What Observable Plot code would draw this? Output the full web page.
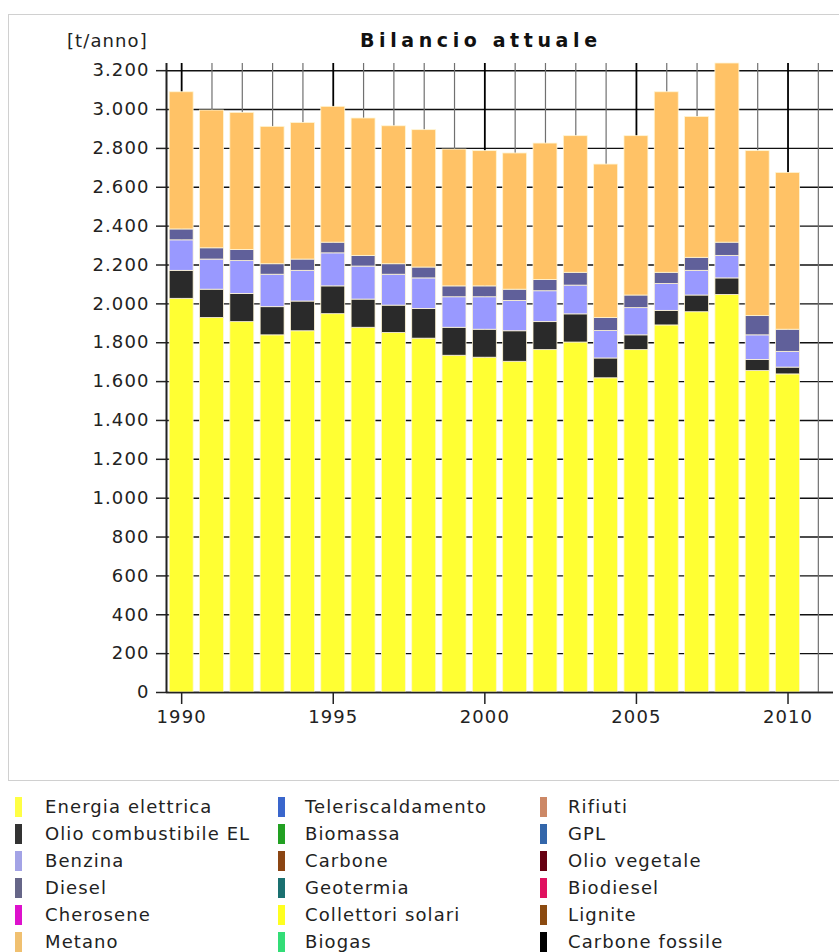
<!DOCTYPE html>
<html><head><meta charset="utf-8">
<script src="https://cdn.jsdelivr.net/npm/d3@7"></script>
<script src="https://cdn.jsdelivr.net/npm/@observablehq/plot@0.6"></script>
<style>
body{margin:0;background:#fff;font-family:"DejaVu Sans",sans-serif;color:#222;}
#wrap{position:relative;width:839px;height:952px;overflow:hidden;}
#frame{position:absolute;left:8px;top:14px;width:850px;height:767px;border:1px solid #d0d0d0;box-sizing:border-box;}
#chart{position:absolute;left:0;top:0;}
#title{position:absolute;left:360px;top:31px;font-size:19px;line-height:19px;font-weight:bold;letter-spacing:4.6px;white-space:nowrap;color:#111;}
#unit{position:absolute;left:67px;top:32px;font-size:18px;line-height:18px;letter-spacing:1.1px;white-space:nowrap;}
.lg{position:absolute;font-size:18px;line-height:20px;letter-spacing:1.1px;white-space:nowrap;}
.sw{position:absolute;width:7px;height:20px;}
</style></head>
<body><div id="wrap"><div id="frame"></div><div id="chart"></div>
<div id="title">Bilancio attuale</div><div id="unit">[t/anno]</div>
<div id="legend"></div></div>
<script>
const years = [1990,1991,1992,1993,1994,1995,1996,1997,1998,1999,2000,2001,2002,2003,2004,2005,2006,2007,2008,2009,2010];
const seriesNames = ["Energia elettrica","Olio combustibile EL","Benzina","Diesel","Metano"];
const energia = [2026,1927,1906,1838,1859,1947,1877,1850,1821,1733,1723,1702,1762,1801,1617,1762,1889,1957,2046,1654,1637];
const olio    = [144,146,145,145,153,143,145,141,153,144,144,157,144,145,102,76,75,86,85,57,35];
const benzina = [157,155,169,167,158,170,170,159,157,157,167,156,159,148,141,140,138,127,116,127,81];
const diesel  = [56,58,57,54,58,55,55,54,56,56,56,58,58,66,67,65,58,67,68,99,114];
const metano  = [706,709,706,707,703,699,707,710,707,704,696,701,702,703,790,820,929,725,922,849,807];
const barColors = ["#ffff33","#2a2a2a","#9999ff","#60609a","#ffc266"];
const yTicks = [0,200,400,600,800,1000,1200,1400,1600,1800,2000,2200,2400,2600,2800,3000,3200];
const xTicks = [1990,1995,2000,2005,2010];
const gridYears = [1990,1991,1992,1993,1994,1995,1996,1997,1998,1999,2000,2001,2002,2003,2004,2005,2006,2007,2008,2009,2010,2011];
const legendNames = ["Energia elettrica","Olio combustibile EL","Benzina","Diesel","Cherosene","Metano",
  "Teleriscaldamento","Biomassa","Carbone","Geotermia","Collettori solari","Biogas",
  "Rifiuti","GPL","Olio vegetale","Biodiesel","Lignite","Carbone fossile"];
const legendColors = ["#ffff44","#333333","#a3a3e6","#666688","#dd11cc","#f0c070",
  "#3a66cc","#22a022","#8b4513","#1a7070","#ffff20","#33dd77",
  "#cc8866","#3366aa","#660011","#e0115f","#8b4a10","#000000"];

const values = [energia, olio, benzina, diesel, metano];
const data = [];
years.forEach((yr, i) => seriesNames.forEach((s, k) => data.push({year: yr, type: s, value: values[k][i]})));
const totals = years.map((yr, i) => values.reduce((a, v) => a + v[i], 0));

const itFmt = d3.formatLocale({decimal: ",", thousands: ".", grouping: [3], currency: ["", "€"]}).format(",d");

const chart = Plot.plot({
  width: 839, height: 780,
  marginLeft: 166, marginRight: 6, marginTop: 63, marginBottom: 88,
  style: {fontFamily: "DejaVu Sans", fontSize: "18px", letterSpacing: "1.1px", color: "#222", background: "transparent", overflow: "visible"},
  x: {domain: [1989.5, 2011.5]},
  y: {domain: [0, d3.max(totals)]},
  color: {domain: seriesNames, range: barColors},
  marks: [
    Plot.ruleY(yTicks, {stroke: "#111", strokeWidth: 1.4}),
    Plot.ruleX(gridYears.filter(d => d % 5 !== 0), {stroke: "#707070", strokeWidth: 1.2}),
    Plot.ruleX(gridYears.filter(d => d % 5 === 0), {stroke: "#000", strokeWidth: 1.8}),
    Plot.rectY(data, {x1: d => d.year - 0.395, x2: d => d.year + 0.395, y: "value", fill: "type", order: seriesNames, stroke: "#fff6d6", strokeWidth: 0.8}),
    Plot.ruleY([0], {stroke: "#222", strokeWidth: 1.6}),
    Plot.ruleX([1989.5], {stroke: "#222", strokeWidth: 2}),
    Plot.axisY({ticks: yTicks, tickSize: 10, tickPadding: 7, tickFormat: itFmt, label: null, stroke: "#222", strokeWidth: 1.5}),
    Plot.axisX({ticks: xTicks, tickSize: 12, tickPadding: 6, tickFormat: d => String(d), label: null, stroke: "#222", strokeWidth: 1.5})
  ]
});
document.getElementById("chart").appendChild(chart);

const lg = document.getElementById("legend");
const colSw = [15, 278, 540], colTx = [45, 305, 568];
legendNames.forEach((name, i) => {
  const c = Math.floor(i / 6), r = i % 6;
  const top = 797 + r * 27;
  const sw = document.createElement("div");
  sw.className = "sw"; sw.style.left = colSw[c] + "px"; sw.style.top = top + "px"; sw.style.background = legendColors[i];
  lg.appendChild(sw);
  const tx = document.createElement("div");
  tx.className = "lg"; tx.style.left = colTx[c] + "px"; tx.style.top = top + "px"; tx.textContent = name;
  lg.appendChild(tx);
});
</script></body></html>
